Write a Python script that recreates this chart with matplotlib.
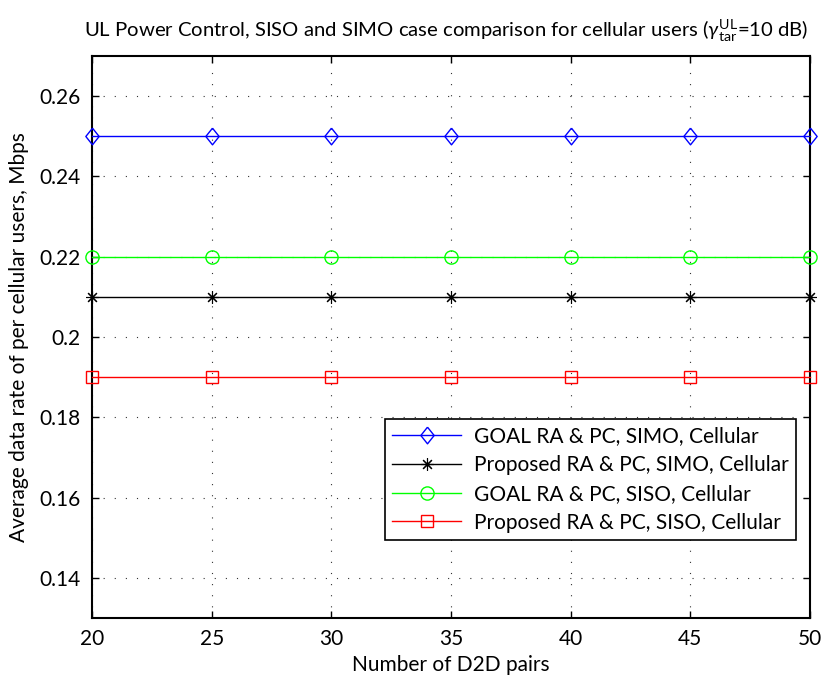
import matplotlib
matplotlib.use("Agg")
import matplotlib.pyplot as plt

plt.rcParams['font.family'] = ['Lato', 'DejaVu Sans']
plt.rcParams['mathtext.fontset'] = 'custom'
plt.rcParams['mathtext.rm'] = 'Lato'
plt.rcParams['mathtext.it'] = 'Lato:italic'

d2d_pairs = [20, 25, 30, 35, 40, 45, 50]
goal_simo = [0.25, 0.25, 0.25, 0.25, 0.25, 0.25, 0.25]
prop_simo = [0.21, 0.21, 0.21, 0.21, 0.21, 0.21, 0.21]
goal_siso = [0.22, 0.22, 0.22, 0.22, 0.22, 0.22, 0.22]
prop_siso = [0.19, 0.19, 0.19, 0.19, 0.19, 0.19, 0.19]

labels = ["GOAL RA & PC, SIMO, Cellular",
          "Proposed RA & PC, SIMO, Cellular",
          "GOAL RA & PC, SISO, Cellular",
          "Proposed RA & PC, SISO, Cellular"]

y_ticks = [0.14, 0.16, 0.18, 0.2, 0.22, 0.24, 0.26]
y_tick_labels = ["0.14", "0.16", "0.18", "0.2", "0.22", "0.24", "0.26"]

# MATLAB-style diamond (slightly taller than wide)
diamond = [(0, 1), (0.8, 0), (0, -1), (-0.8, 0), (0, 1)]

fig = plt.figure(figsize=(8.21, 6.82), dpi=100)
ax = fig.add_axes([92/821, 1-618/682, 718/821, 562/682])

ax.plot(d2d_pairs, goal_simo, color='#0000ff', lw=1.0, marker=diamond, ms=12,
        mfc='none', mec='#0000ff', mew=1.0, label=labels[0], clip_on=False, zorder=3)
ax.plot(d2d_pairs, prop_simo, color='black', lw=1.0, marker=(8, 2, 0), ms=9,
        mfc='none', mec='black', mew=0.8, label=labels[1], clip_on=False, zorder=3)
ax.plot(d2d_pairs, goal_siso, color='#00ff00', lw=1.0, marker='o', ms=9.5,
        mfc='none', mec='#00ff00', mew=1.0, label=labels[2], clip_on=False, zorder=3)
ax.plot(d2d_pairs, prop_siso, color='#ff0000', lw=1.0, marker='s', ms=8,
        mfc='none', mec='#ff0000', mew=1.0, label=labels[3], clip_on=False, zorder=3)

ax.set_xlim(20, 50)
ax.set_ylim(0.13, 0.27)
ax.set_xticks(d2d_pairs)
ax.set_yticks(y_ticks)
ax.set_yticklabels(y_tick_labels)
ax.tick_params(direction='in', top=True, right=True, length=5, width=1,
               labelsize=15, pad=8)
for s in ax.spines.values():
    s.set_linewidth(1.5)
ax.grid(True, color='#333333', linestyle=(0, (1, 9)), linewidth=0.8)

ax.set_xlabel("Number of D2D pairs", fontsize=15, labelpad=4)
ax.set_ylabel("Average data rate of per cellular users, Mbps", fontsize=15, labelpad=8)
ax.set_title(r"UL Power Control, SISO and SIMO case comparison for cellular users ($\gamma_{\mathrm{tar}}^{\mathrm{UL}}$=10 dB)",
             fontsize=14.6, pad=14, x=0.494)

leg = ax.legend(loc='lower right', bbox_to_anchor=(0.980, 0.139), fontsize=15,
                fancybox=False, framealpha=1, edgecolor='black', borderaxespad=0,
                handlelength=3.3, borderpad=0.35, labelspacing=0.42, handletextpad=0.6)
leg.get_frame().set_linewidth(1.2)

fig.savefig("out.png", dpi=100)
